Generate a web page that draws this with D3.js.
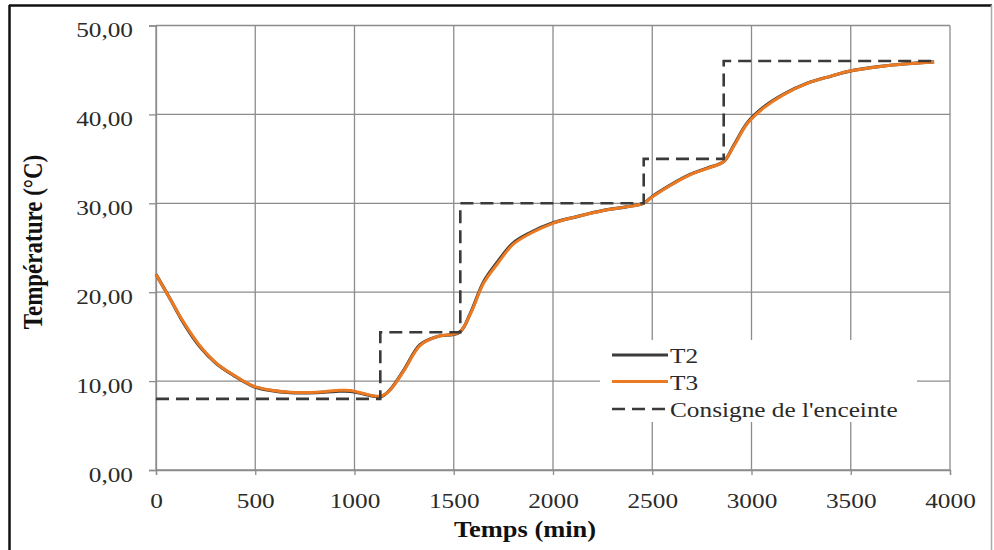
<!DOCTYPE html>
<html>
<head>
<meta charset="utf-8">
<script src="https://cdn.jsdelivr.net/npm/d3@7"></script>
<style>
  html, body { margin: 0; padding: 0; background: #fff; }
  svg { display: block; }
  text { font-family: "Liberation Serif", "Times New Roman", serif; }
</style>
</head>
<body>
<svg id="chart" width="994" height="550"></svg>
<script>
// Time samples (min) for the measured temperatures
const timeSamples = [0, 70, 140, 220, 305, 390, 490, 575, 675, 810, 910, 980, 1045, 1110, 1140, 1180, 1250, 1330, 1415, 1530, 1585, 1650, 1720, 1800, 1885, 2000, 2120, 2255, 2370, 2455, 2505, 2610, 2690, 2775, 2860, 2910, 2980, 3060, 3160, 3280, 3400, 3500, 3650, 3785, 3920];

// Probe T2 (°C)
const t2Values = [22.0, 19.3, 16.5, 13.9, 11.95, 10.65, 9.4, 8.95, 8.7, 8.7, 8.85, 8.85, 8.55, 8.25, 8.3, 9.05, 11.3, 14.1, 15.0, 15.5, 17.7, 21.15, 23.4, 25.55, 26.7, 27.8, 28.5, 29.2, 29.6, 30.0, 30.85, 32.3, 33.25, 33.95, 34.7, 36.5, 39.1, 40.8, 42.25, 43.5, 44.3, 44.9, 45.4, 45.7, 45.9];

// Probe T3 (°C)
const t3Values = [22.0, 19.3, 16.6, 14.0, 12.0, 10.7, 9.45, 9.0, 8.75, 8.75, 8.95, 8.95, 8.6, 8.3, 8.35, 9.0, 11.2, 14.0, 15.0, 15.55, 17.6, 21.0, 23.2, 25.4, 26.6, 27.75, 28.5, 29.2, 29.6, 30.0, 30.8, 32.25, 33.2, 33.9, 34.7, 36.4, 39.0, 40.7, 42.2, 43.5, 44.3, 44.9, 45.4, 45.7, 45.9];

// Enclosure set point: level held from each change time onward
const setpointTimes = [0, 1130, 1533, 2457, 2860, 3920];
const setpointValues = [8, 15.5, 30, 35, 46, 46];

// Axis ticks
const xTicks = [0, 500, 1000, 1500, 2000, 2500, 3000, 3500, 4000];
const yTicks = [0, 10, 20, 30, 40, 50];

// Legend entries
const legendLabels = ["T2", "T3", "Consigne de l'enceinte"];

const svg = d3.select("#chart");
const plotLeft = 156, plotRight = 950, plotTop = 25.5, plotBottom = 470;
const stretch = 1.15;

const x = d3.scaleLinear().domain([0, 4000]).range([plotLeft, plotRight]);
const y = d3.scaleLinear().domain([0, 50]).range([plotBottom, plotTop]);

// Outer frame
svg.append("line").attr("x1", 9.5).attr("x2", 9.5).attr("y1", 5).attr("y2", 550)
  .attr("stroke", "#111").attr("stroke-width", 2.5);
svg.append("line").attr("x1", 9).attr("x2", 992).attr("y1", 5.5).attr("y2", 5.5)
  .attr("stroke", "#111").attr("stroke-width", 2.5);
svg.append("line").attr("x1", 991.5).attr("x2", 991.5).attr("y1", 5).attr("y2", 550)
  .attr("stroke", "#aaa").attr("stroke-width", 1.5);

const gridColor = "#8c8c8c";

// Grid
const grid = svg.append("g");
grid.selectAll("line.h").data(yTicks).join("line")
  .attr("x1", plotLeft).attr("x2", plotRight)
  .attr("y1", d => y(d)).attr("y2", d => y(d))
  .attr("stroke", gridColor).attr("stroke-width", 1.3);
grid.selectAll("line.v").data(xTicks).join("line")
  .attr("x1", d => x(d)).attr("x2", d => x(d))
  .attr("y1", plotTop).attr("y2", plotBottom)
  .attr("stroke", gridColor).attr("stroke-width", 1.3);

// Axes
const xAxis = svg.append("g").attr("transform", `translate(0,${plotBottom})`)
  .call(d3.axisBottom(x).tickValues(xTicks).tickFormat(d3.format("d")).tickSize(5).tickPadding(17));
const yAxis = svg.append("g").attr("transform", `translate(${plotLeft},0)`)
  .call(d3.axisLeft(y).tickValues(yTicks).tickFormat(d => d3.format(".2f")(d).replace(".", ",")).tickSize(7).tickPadding(13));

[xAxis, yAxis].forEach(a => {
  a.select(".domain").attr("stroke", gridColor).attr("stroke-width", 1.3);
  a.selectAll(".tick line").attr("stroke", gridColor).attr("stroke-width", 1.3);
  a.selectAll(".tick text")
    .attr("font-family", "Liberation Serif, Times New Roman, serif")
    .attr("font-size", 22).attr("fill", "#2a2a2a");
});
yAxis.selectAll(".tick text").attr("dy", "0.5em").attr("transform", `scale(${stretch},1)`);
xAxis.selectAll(".tick text").attr("transform", `scale(${stretch},1)`);

// Series
const points = vals => timeSamples.map((t, i) => [t, vals[i]]);
const curveLine = d3.line().x(d => x(d[0])).y(d => y(d[1])).curve(d3.curveCatmullRom.alpha(0.5));
const stepLine = d3.line().x(d => x(d[0])).y(d => y(d[1])).curve(d3.curveStepAfter);

const colT2 = "#3c3c3c", colT3 = "#ec7a22", colSet = "#3a3a3a";

svg.append("path").attr("d", curveLine(points(t2Values)))
  .attr("fill", "none").attr("stroke", colT2).attr("stroke-width", 3.2);
svg.append("path").attr("d", curveLine(points(t3Values)))
  .attr("fill", "none").attr("stroke", colT3).attr("stroke-width", 3);
svg.append("path").attr("d", stepLine(setpointTimes.map((t, i) => [t, setpointValues[i]])))
  .attr("fill", "none").attr("stroke", colSet).attr("stroke-width", 2.6)
  .attr("stroke-dasharray", "13,7");

// Legend
const legend = svg.append("g");
legend.append("rect").attr("x", 600).attr("y", 340).attr("width", 317).attr("height", 82).attr("fill", "#fff");
const legendY = [355, 381.5, 409];
const legendStyles = [
  { color: colT2, width: 3, dash: null },
  { color: colT3, width: 3, dash: null },
  { color: colSet, width: 2.6, dash: "13,7" }
];
legendLabels.forEach((label, i) => {
  legend.append("line").attr("x1", 612).attr("x2", 668)
    .attr("y1", legendY[i]).attr("y2", legendY[i])
    .attr("stroke", legendStyles[i].color).attr("stroke-width", legendStyles[i].width)
    .attr("stroke-dasharray", legendStyles[i].dash);
  legend.append("text")
    .attr("transform", `translate(670,${legendY[i] + 8}) scale(${stretch},1)`)
    .attr("font-size", 22).attr("fill", "#2a2a2a")
    .text(label);
});

// Axis titles
svg.append("text")
  .attr("transform", `translate(525,537) scale(${stretch},1)`)
  .attr("text-anchor", "middle").attr("font-size", 23).attr("font-weight", "bold").attr("fill", "#111")
  .text("Temps (min)");
svg.append("text")
  .attr("transform", `translate(42,242) rotate(-90) scale(1,${stretch})`)
  .attr("text-anchor", "middle").attr("font-size", 23).attr("font-weight", "bold").attr("fill", "#111")
  .text("Température (°C)");
</script>
</body>
</html>
